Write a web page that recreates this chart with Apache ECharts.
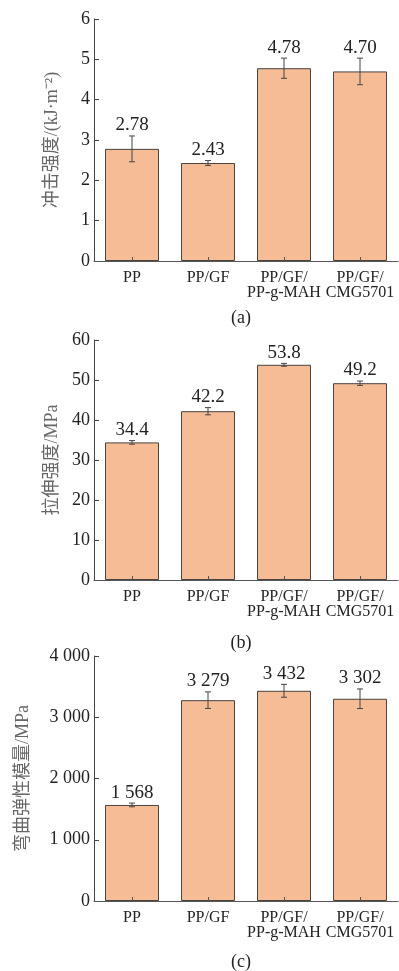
<!DOCTYPE html>
<html>
<head>
<meta charset="utf-8">
<script src="https://cdn.jsdelivr.net/npm/echarts@6/dist/echarts.min.js"></script>
<style>
  html, body { margin: 0; padding: 0; background: #fff; }
  #chart { width: 399px; height: 971px; }
</style>
</head>
<body>
<div id="chart"></div>
<script>
// Sample groups on the x axis
const categories = ['PP', 'PP/GF', 'PP/GF/\nPP-g-MAH', 'PP/GF/\nCMG5701'];

// (a) impact strength, kJ·m⁻²
const impactValues = [2.78, 2.43, 4.78, 4.70];
const impactErrors = [0.32, 0.06, 0.25, 0.33];

// (b) tensile strength, MPa
const tensileValues = [34.4, 42.2, 53.8, 49.2];
const tensileErrors = [0.45, 0.9, 0.35, 0.55];

// (c) flexural modulus, MPa
const flexValues = [1568, 3279, 3432, 3302];
const flexErrors = [30, 135, 105, 160];

// Axis ranges
const impactAxis = { min: 0, max: 6, interval: 1 };
const tensileAxis = { min: 0, max: 60, interval: 10 };
const flexAxis = { min: 0, max: 4000, interval: 1000 };

// Panel captions
const captions = ['(a)', '(b)', '(c)'];

const SERIF = '"Liberation Serif", "Times New Roman", serif';
const NAME_FONT = '"Liberation Serif", "Noto Sans CJK SC", serif';
const BAR_FILL = '#F5BC95';
const BAR_EDGE = '#4a423e';
const INK = '#222';

function spaced(n) {
  return String(n).replace(/\B(?=(\d{3})+(?!\d))/g, ' ');
}

const panels = [
  { top: 19, height: 242, axis: impactAxis, values: impactValues, errors: impactErrors,
    name: '冲击强度/(kJ·m⁻²)', nameGap: 33, fmt: v => v.toFixed(2), tick: v => String(v),
    captionTop: 304 },
  { top: 340, height: 240, axis: tensileAxis, values: tensileValues, errors: tensileErrors,
    name: '拉伸强度/MPa', nameGap: 33, fmt: v => v.toFixed(1), tick: v => String(v),
    captionTop: 629 },
  { top: 656, height: 245, axis: flexAxis, values: flexValues, errors: flexErrors,
    name: '弯曲弹性模量/MPa', nameGap: 62, fmt: v => spaced(v), tick: v => spaced(v),
    captionTop: 948 }
];

const grid = [], xAxis = [], yAxis = [], series = [], title = [];

panels.forEach((p, i) => {
  grid.push({ left: 94, right: 1, top: p.top, height: p.height });
  xAxis.push({
    type: 'category', gridIndex: i, data: categories, z: 5,
    axisLine: { lineStyle: { color: '#555', width: 1 } },
    axisTick: { show: true, inside: true, length: 4, alignWithLabel: true,
                lineStyle: { color: '#555' } },
    axisLabel: { interval: 0, fontFamily: SERIF, fontSize: 16, color: INK,
                 margin: 9, lineHeight: 15 }
  });
  yAxis.push({
    type: 'value', gridIndex: i, min: p.axis.min, max: p.axis.max, interval: p.axis.interval,
    splitLine: { show: false },
    axisLine: { show: true, lineStyle: { color: '#444', width: 1 } },
    axisTick: { show: true, inside: true, length: 5, lineStyle: { color: '#444' } },
    axisLabel: { fontFamily: SERIF, fontSize: 18, color: INK, margin: 4,
                 formatter: p.tick },
    name: p.name, nameLocation: 'middle', nameGap: p.nameGap,
    nameTextStyle: { fontFamily: NAME_FONT, fontSize: 18, color: '#666' }
  });
  series.push({
    type: 'bar', xAxisIndex: i, yAxisIndex: i, data: p.values,
    barWidth: 54,
    itemStyle: { color: BAR_FILL, borderColor: BAR_EDGE, borderWidth: 1 },
    z: 2
  });
  series.push({
    type: 'custom', xAxisIndex: i, yAxisIndex: i, z: 6,
    data: p.values.map((v, k) => [k, v, p.errors[k]]),
    renderItem: function (params, api) {
      const k = api.value(0), v = api.value(1), e = api.value(2);
      const hi = api.coord([k, v + e]);
      const lo = api.coord([k, v - e]);
      const cap = 3;
      const ls = { stroke: '#444', lineWidth: 1 };
      return {
        type: 'group',
        children: [
          { type: 'line', shape: { x1: hi[0], y1: hi[1], x2: lo[0], y2: lo[1] }, style: ls },
          { type: 'line', shape: { x1: hi[0] - cap, y1: hi[1], x2: hi[0] + cap, y2: hi[1] }, style: ls },
          { type: 'line', shape: { x1: lo[0] - cap, y1: lo[1], x2: lo[0] + cap, y2: lo[1] }, style: ls },
          { type: 'text', style: {
              text: p.fmt(v), x: hi[0], y: hi[1] - 1,
              align: 'center', verticalAlign: 'bottom',
              font: '19px ' + SERIF, fill: INK } }
        ]
      };
    }
  });
  title.push({
    text: captions[i], left: 236, top: p.captionTop, textAlign: 'center',
    textStyle: { fontFamily: SERIF, fontSize: 18, fontWeight: 'normal', color: INK }
  });
});

const chart = echarts.init(document.getElementById('chart'), null, { renderer: 'canvas' });
chart.setOption({
  animation: false,
  backgroundColor: '#fff',
  title, grid, xAxis, yAxis, series
});
</script>
</body>
</html>
